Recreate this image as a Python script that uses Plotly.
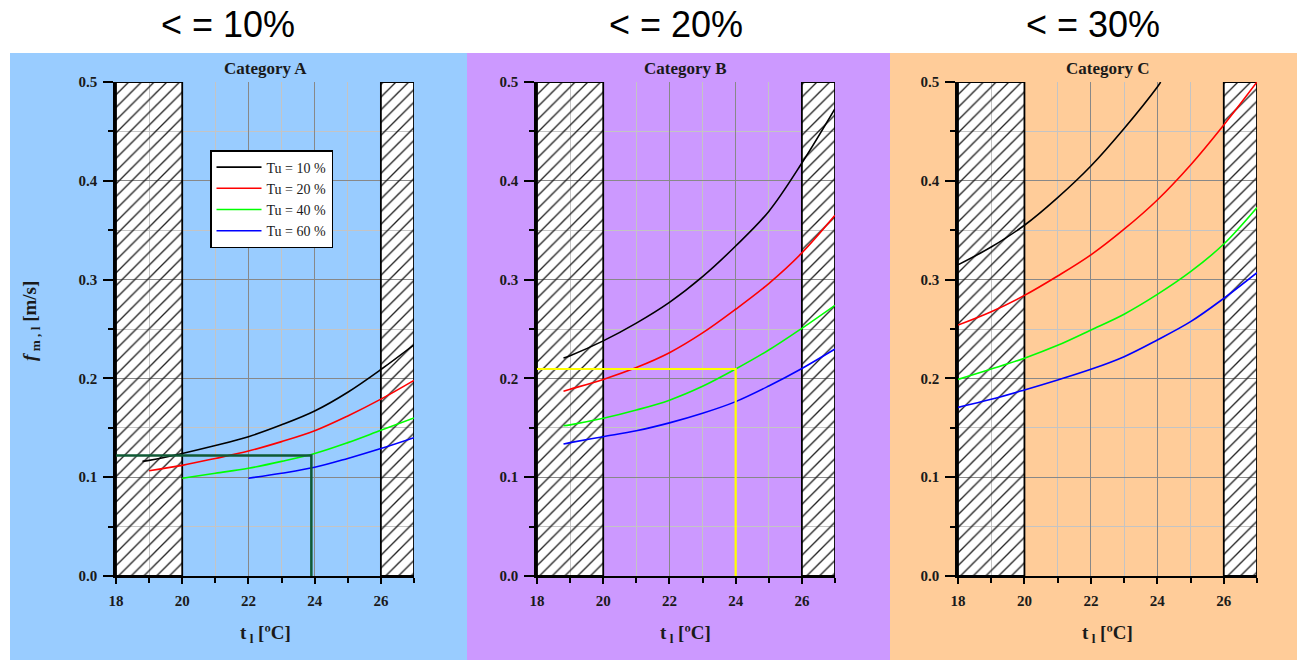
import plotly.graph_objects as go

W, H = 1297, 660

# ---------------- data ----------------
series_names = ["Tu = 10 %", "Tu = 20 %", "Tu = 40 %", "Tu = 60 %"]
series_colors = ["#000000", "#ff0000", "#00ff00", "#0000ff"]

# Category A
tA_10 = [18.8, 19, 20, 21, 22, 23, 24, 25, 26, 27]
fA_10 = [0.116, 0.117, 0.124, 0.132, 0.141, 0.153, 0.167, 0.186, 0.209, 0.234]
tA_20 = [19, 20, 21, 22, 23, 24, 25, 26, 27]
fA_20 = [0.1066, 0.112, 0.119, 0.1265, 0.136, 0.147, 0.162, 0.179, 0.198]
tA_40 = [20, 21, 22, 23, 24, 25, 26, 27]
fA_40 = [0.099, 0.104, 0.109, 0.116, 0.124, 0.135, 0.1475, 0.160]
tA_60 = [22, 23, 24, 25, 26, 27]
fA_60 = [0.099, 0.104, 0.110, 0.119, 0.129, 0.140]

# Category B
tB = [18.8, 19, 20, 21, 22, 23, 24, 25, 26, 27]
fB_10 = [0.2206, 0.223, 0.238, 0.256, 0.277, 0.303, 0.334, 0.369, 0.418, 0.473]
fB_20 = [0.187, 0.189, 0.199, 0.211, 0.226, 0.246, 0.270, 0.296, 0.327, 0.365]
fB_40 = [0.152, 0.153, 0.1596, 0.168, 0.178, 0.192, 0.2095, 0.2287, 0.2507, 0.274]
fB_60 = [0.1336, 0.135, 0.141, 0.147, 0.155, 0.1647, 0.1765, 0.1923, 0.210, 0.2297]

# Category C
tC_10 = [18, 19, 20, 21, 22, 23, 24, 24.1]
fC_10 = [0.315, 0.333, 0.355, 0.383, 0.415, 0.453, 0.495, 0.500]
tC = [18, 19, 20, 21, 22, 23, 24, 25, 26, 27]
fC_20 = [0.254, 0.2675, 0.284, 0.3036, 0.325, 0.351, 0.3806, 0.416, 0.4565, 0.500]
fC_40 = [0.199, 0.2095, 0.2205, 0.2335, 0.249, 0.265, 0.285, 0.308, 0.336, 0.373]
fC_60 = [0.1707, 0.1788, 0.1883, 0.1984, 0.2092, 0.222, 0.2389, 0.2574, 0.281, 0.307]

# reading lines
readA_t = [17.8, 23.9, 23.9]
readA_f = [0.122, 0.122, 0.0]
readB_t = [17.5, 24.0, 24.0]
readB_f = [0.2095, 0.2095, 0.0]

# hatched (outside comfort) zones
hatch_lo = [18, 20]
hatch_hi = [26, 27]
f_max = 0.5

panel_titles = ["Category A", "Category B", "Category C"]
header_texts = ["< = 10%", "< = 20%", "< = 30%"]
panel_colors = ["#99ccff", "#cc99ff", "#ffcc99"]

x_ticks = [18, 20, 22, 24, 26]
y_ticks = [0.0, 0.1, 0.2, 0.3, 0.4, 0.5]

# ---------------- layout geometry (pixels) ----------------
plot_x = [(116, 414), (537, 835), (958, 1257)]
plot_top, plot_bot = 82, 576
panel_x = [(10, 467), (467, 890), (890, 1297)]
panel_top = 53

def px(x):
    return x / W

def py(y):
    return 1 - y / H

fig = go.Figure()

serif = "Liberation Serif"
txt_col = "#1a1a1a"

curves = [
    [(tA_10, fA_10), (tA_20, fA_20), (tA_40, fA_40), (tA_60, fA_60)],
    [(tB, fB_10), (tB, fB_20), (tB, fB_40), (tB, fB_60)],
    [(tC_10, fC_10), (tC, fC_20), (tC, fC_40), (tC, fC_60)],
]

layout_axes = {}
shapes = []
annotations = []

for i in range(3):
    xa = "x" if i == 0 else f"x{i+1}"
    ya = "y" if i == 0 else f"y{i+1}"
    xkey = "xaxis" if i == 0 else f"xaxis{i+1}"
    ykey = "yaxis" if i == 0 else f"yaxis{i+1}"

    # panel background
    shapes.append(dict(type="rect", xref="paper", yref="paper",
                       x0=px(panel_x[i][0]), x1=px(panel_x[i][1]),
                       y0=py(H + 2), y1=py(panel_top),
                       fillcolor=panel_colors[i], line_width=0, layer="below"))
    # white background of hatched zones (below gridlines)
    for (a, b) in (hatch_lo, hatch_hi):
        shapes.append(dict(type="rect", xref=xa, yref=ya, x0=a, x1=b, y0=0, y1=f_max,
                           fillcolor="white", line_width=0, layer="below"))

    # hatched zones
    fig.add_trace(go.Bar(
        x=[(hatch_lo[0] + hatch_lo[1]) / 2, (hatch_hi[0] + hatch_hi[1]) / 2],
        y=[f_max, f_max], base=[0, 0],
        width=[hatch_lo[1] - hatch_lo[0], hatch_hi[1] - hatch_hi[0]],
        marker=dict(color="rgba(0,0,0,0)",
                    line=dict(color="black", width=1.8),
                    pattern=dict(shape="/", fgcolor="#222222", bgcolor="rgba(0,0,0,0)",
                                 size=9, solidity=0.15, fillmode="replace")),
        showlegend=False, hoverinfo="skip", xaxis=xa, yaxis=ya))

    # curves
    for k, (tt, ff) in enumerate(curves[i]):
        fig.add_trace(go.Scatter(
            x=tt, y=ff, mode="lines", name=series_names[k],
            line=dict(color=series_colors[k], width=1.6, shape="spline", smoothing=1.0),
            showlegend=(i == 0), xaxis=xa, yaxis=ya))

    layout_axes[xkey] = dict(
        domain=[px(plot_x[i][0]), px(plot_x[i][1])], anchor=ya,
        range=[18, 27], tickvals=x_ticks, ticks="outside", ticklen=6, tickwidth=1.5,
        tickcolor="black", showline=True, linecolor="black", linewidth=1.5,
        showgrid=True, gridcolor="#888888", gridwidth=1.2, zeroline=False,
        ticklabelstandoff=4,
        minor=dict(dtick=1, tick0=18, ticks="outside", ticklen=5, tickcolor="black",
                   showgrid=True, gridcolor="#c4c4c4", gridwidth=1),
        tickfont=dict(family=serif, size=15, color=txt_col, weight="bold"),
        fixedrange=True)
    layout_axes[ykey] = dict(
        domain=[py(plot_bot), py(plot_top)], anchor=xa,
        range=[0, 0.5], tickvals=y_ticks, tickformat=".1f", ticks="outside", ticklen=10,
        tickwidth=1.5, tickcolor="black", showline=True, linecolor="black", linewidth=2.5,
        showgrid=True, gridcolor="#888888", gridwidth=1.2, zeroline=False,
        ticklabelstandoff=3,
        minor=dict(dtick=0.05, tick0=0, ticks="outside", ticklen=5, tickcolor="black",
                   showgrid=True, gridcolor="#c4c4c4", gridwidth=1),
        tickfont=dict(family=serif, size=15, color=txt_col, weight="bold"),
        fixedrange=True)

    cx = (plot_x[i][0] + plot_x[i][1]) / 2
    annotations.append(dict(text=panel_titles[i], xref="paper", yref="paper",
                            x=px(cx), y=py(68), xanchor="center", yanchor="middle",
                            showarrow=False,
                            font=dict(family=serif, size=17, color=txt_col, weight="bold")))
    annotations.append(dict(text="t<sub> l</sub> [ºC]", xref="paper", yref="paper",
                            x=px(cx), y=py(634), xanchor="center", yanchor="middle",
                            showarrow=False,
                            font=dict(family=serif, size=19, color=txt_col, weight="bold")))
    hx = [228, 676, 1093][i]
    annotations.append(dict(text=header_texts[i], xref="paper", yref="paper",
                            x=px(hx), y=py(25), xanchor="center", yanchor="middle",
                            showarrow=False,
                            font=dict(family="Liberation Sans", size=36, color="black")))

# reading lines
fig.add_trace(go.Scatter(x=readA_t, y=readA_f, mode="lines", showlegend=False,
                         line=dict(color="#0f5a35", width=2.5), cliponaxis=False,
                         xaxis="x", yaxis="y", hoverinfo="skip"))
fig.add_trace(go.Scatter(x=readB_t, y=readB_f, mode="lines", showlegend=False,
                         line=dict(color="#ffff00", width=2.2), cliponaxis=False,
                         xaxis="x2", yaxis="y2", hoverinfo="skip"))

annotations.append(dict(text="<i>f</i><sub> m , l</sub> [m/s]", xref="paper", yref="paper",
                        x=px(31), y=py(321), xanchor="center", yanchor="middle",
                        showarrow=False, textangle=-90,
                        font=dict(family=serif, size=19, color=txt_col, weight="bold")))

fig.update_layout(
    width=W, height=H, margin=dict(l=0, r=0, t=0, b=0, autoexpand=False),
    paper_bgcolor="white", plot_bgcolor="rgba(0,0,0,0)",
    shapes=shapes, annotations=annotations, barmode="overlay",
    legend=dict(x=px(210), y=py(150), xanchor="left", yanchor="top",
                bgcolor="white", bordercolor="black", borderwidth=1.5,
                font=dict(family=serif, size=14, color=txt_col),
                tracegroupgap=0, itemwidth=45),
    **layout_axes)

fig.write_html("out.html", config={"displayModeBar": False},
               post_script="document.body.style.margin='0px';")
